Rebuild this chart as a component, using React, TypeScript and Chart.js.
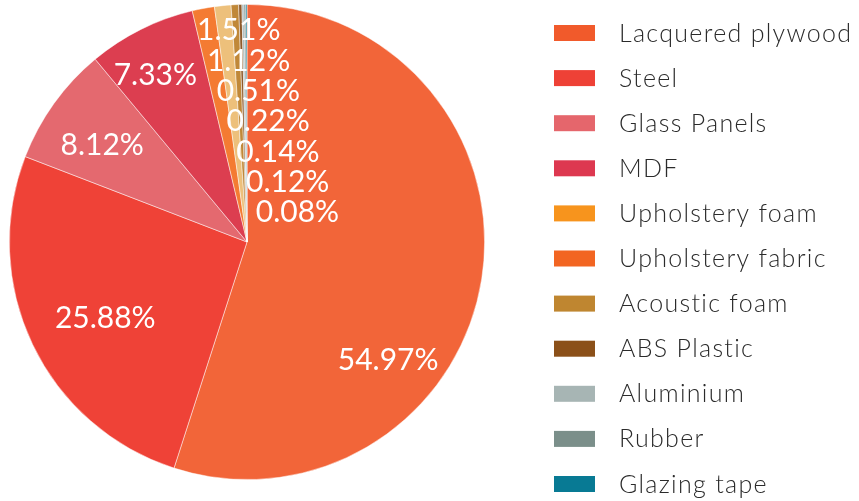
import React, { useEffect, useRef } from "react";
import { Chart, registerables } from "chart.js";

Chart.register(...registerables);

const categories = [
  "Lacquered plywood",
  "Steel",
  "Glass Panels",
  "MDF",
  "Upholstery foam",
  "Upholstery fabric",
  "Acoustic foam",
  "ABS Plastic",
  "Aluminium",
  "Rubber",
  "Glazing tape",
];

const shares = [54.97, 25.88, 8.12, 7.33, 1.51, 1.12, 0.51, 0.22, 0.14, 0.12, 0.08];

const sliceColors = [
  "#F26539",
  "#EF4237",
  "#E4696F",
  "#DC3E50",
  "#F47B32",
  "#EDC07B",
  "#C08838",
  "#8F5A2A",
  "#A9B7B6",
  "#7D918D",
  "#0B7B94",
];

const legendColors = [
  "#F15A2B",
  "#EE4136",
  "#E5666C",
  "#DD3850",
  "#F7941D",
  "#F26522",
  "#BF8630",
  "#8B5019",
  "#A7B5B4",
  "#7B8F8A",
  "#087A94",
];

const valueLabels = shares.map((v) => v.toFixed(2) + "%");

// label placement styling for large slices (angle shift in degrees, radius fraction)
const bigLabelShift = [31, -2.7, -1.9, -2.3];
const bigLabelRadius = [0.775, 0.677, 0.733, 0.8];

const labelFont = "400 30px Lato, 'Open Sans', sans-serif";
const legendFont = "300 25px Lato, 'Open Sans', sans-serif";

const labelPlugin = {
  id: "sliceLabels",
  afterDatasetsDraw(chart: any) {
    const meta = chart.getDatasetMeta(0);
    const ctx = chart.ctx;
    ctx.save();
    ctx.fillStyle = "#ffffff";
    ctx.font = labelFont;
    ctx.textBaseline = "middle";
    let k = 0;
    meta.data.forEach((arc: any, i: number) => {
      const p = arc.getProps(["x", "y", "startAngle", "endAngle", "outerRadius"], true);
      const R = p.outerRadius;
      if (shares[i] >= 5) {
        const mid = (p.startAngle + p.endAngle) / 2 + (bigLabelShift[i] * Math.PI) / 180;
        const f = bigLabelRadius[i];
        ctx.textAlign = "center";
        ctx.fillText(valueLabels[i], p.x + Math.cos(mid) * R * f, p.y + Math.sin(mid) * R * f);
      } else {
        ctx.textAlign = "left";
        const lx = p.x - 0.21 * R + k * 0.0412 * R;
        const ly = p.y - 0.89 * R + k * 0.1277 * R;
        ctx.fillText(valueLabels[i], lx, ly);
        k++;
      }
    });
    ctx.restore();
  },
};

const legendPlugin = {
  id: "sideLegend",
  afterDraw(chart: any) {
    const ctx = chart.ctx;
    ctx.save();
    ctx.font = legendFont;
    (ctx as any).letterSpacing = "1.3px";
    ctx.textBaseline = "middle";
    ctx.textAlign = "left";
    categories.forEach((name, i) => {
      const cy = 33 + i * 45.1;
      ctx.fillStyle = legendColors[i];
      ctx.fillRect(554, cy - 8, 41, 16);
      ctx.fillStyle = "#2b2b2b";
      ctx.fillText(name, 619, cy + 0.5);
    });
    ctx.restore();
  },
};

export default function App() {
  const ref = useRef<HTMLCanvasElement | null>(null);
  useEffect(() => {
    if (!ref.current) return;
    const chart = new Chart(ref.current, {
      type: "pie",
      data: {
        labels: categories,
        datasets: [
          {
            data: shares,
            backgroundColor: sliceColors,
            borderColor: "rgba(255,255,255,0.6)",
            borderWidth: 0.8,
            hoverOffset: 0,
          },
        ],
      },
      options: {
        responsive: false,
        animation: false,
        devicePixelRatio: 1,
        layout: { padding: { left: 9, top: 4, right: 374, bottom: 21 } },
        plugins: {
          legend: { display: false },
          tooltip: { enabled: false },
        },
      },
      plugins: [labelPlugin, legendPlugin],
    });
    return () => chart.destroy();
  }, []);
  return (
    <div style={{ position: "absolute", left: 0, top: 0, width: 859, height: 501, background: "#fff" }}>
      <canvas ref={ref} width={859} height={501} />
    </div>
  );
}
